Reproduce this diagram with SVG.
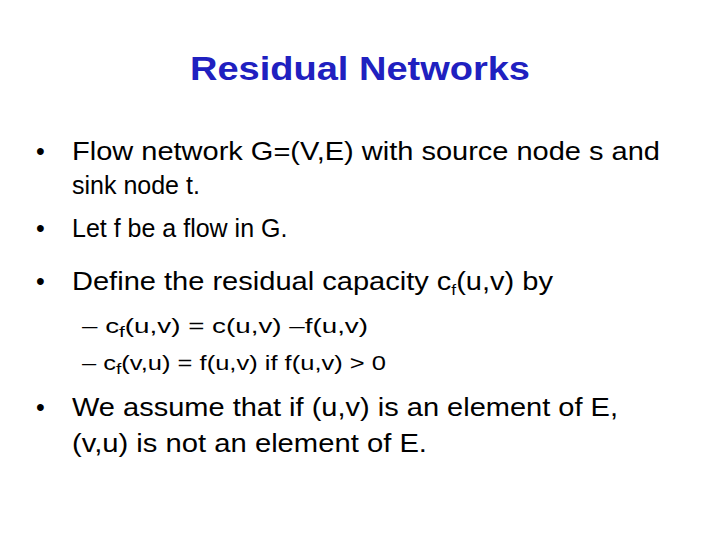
<svg xmlns="http://www.w3.org/2000/svg" width="720" height="540" viewBox="0 0 720 540">
<style>
.t{font-family:"Liberation Sans",Arial,sans-serif;fill:#000}
.b{font-size:25px}
.s{font-size:20px}
.sub{font-size:15px}
</style>
<rect width="720" height="540" fill="#fff"/>
<text x="360" y="80" text-anchor="middle" class="t" style="font-size:34px;font-weight:bold;fill:#2020c0" textLength="340" lengthAdjust="spacingAndGlyphs">Residual Networks</text>
<g class="t b">
<text x="36" y="160">•</text>
<text x="72" y="160" textLength="588" lengthAdjust="spacingAndGlyphs">Flow network G=(V,E) with source node s and</text>
<text x="72" y="194">sink node t.</text>
<text x="36" y="237">•</text>
<text x="72" y="237">Let f be a flow in G.</text>
<text x="36" y="290">•</text>
<text x="72" y="290" textLength="481" lengthAdjust="spacingAndGlyphs">Define the residual capacity c<tspan class="sub" dy="5">f</tspan><tspan dy="-5">(u,v) by</tspan></text>
<text x="36" y="416">•</text>
<text x="72" y="416" textLength="546" lengthAdjust="spacingAndGlyphs">We assume that if (u,v) is an element of E,</text>
<text x="72" y="452" textLength="355" lengthAdjust="spacingAndGlyphs">(v,u) is not an element of E.</text>
</g>
<g class="t s">
<text x="82" y="333" textLength="286" lengthAdjust="spacingAndGlyphs">– c<tspan class="sub" dy="4">f</tspan><tspan dy="-4">(u,v) = c(u,v) –f(u,v)</tspan></text>
<text x="82" y="370" textLength="304" lengthAdjust="spacingAndGlyphs">– c<tspan class="sub" dy="4">f</tspan><tspan dy="-4">(v,u) = f(u,v) if f(u,v) &gt; 0</tspan></text>
</g>
</svg>
